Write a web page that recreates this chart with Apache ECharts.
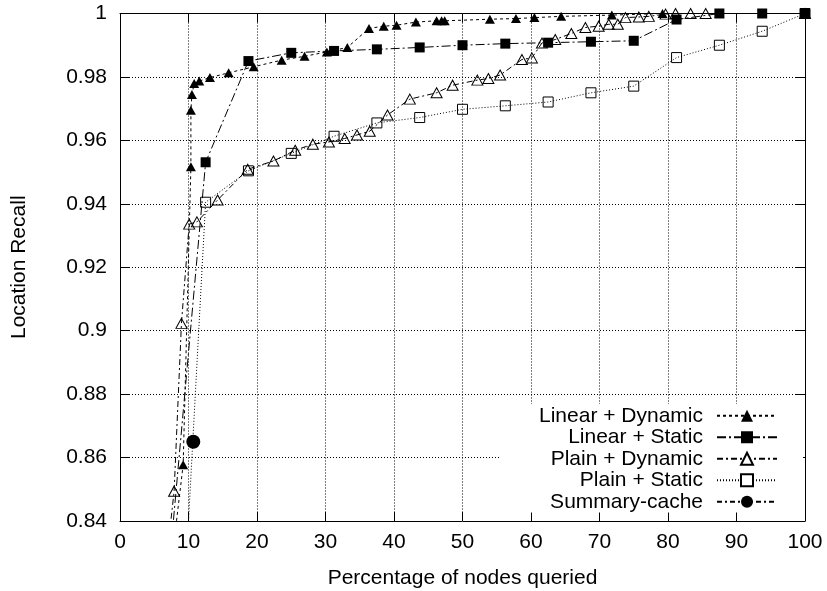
<!DOCTYPE html>
<html>
<head>
<meta charset="utf-8">
<script src="https://cdn.jsdelivr.net/npm/echarts@6/dist/echarts.min.js"></script>
<style>
  html, body { margin: 0; padding: 0; background: #fff; }
  #chart { width: 827px; height: 591px; }
</style>
</head>
<body>
<div id="chart"></div>
<script>
// Recall vs. share of nodes queried, one series per lookup scheme.
const seriesNames = ['Linear + Dynamic', 'Linear + Static', 'Plain + Dynamic', 'Plain + Static', 'Summary-cache'];

const linearDynamicX = [6.6, 9.22, 10.35, 10.35, 10.5, 10.83, 11.57, 13.13, 15.86, 19.52, 23.6, 26.94, 30.2, 33.19, 36.35, 38.5, 40.37, 43.2, 46.22, 46.95, 47.4, 54.0, 57.8, 60.5, 64.4, 71.8, 79.2, 87.5, 100];
const linearDynamicY = [0.81, 0.8577, 0.9517, 0.9695, 0.9745, 0.9779, 0.9787, 0.9798, 0.9813, 0.9832, 0.9853, 0.9865, 0.9879, 0.9893, 0.9953, 0.996, 0.9963, 0.9973, 0.9977, 0.9977, 0.9977, 0.9982, 0.9984, 0.9987, 0.9991, 0.9995, 1.0, 1.0, 1.0];

const linearStaticX = [6.25, 12.5, 18.75, 25, 31.25, 37.5, 43.75, 50, 56.25, 62.5, 68.75, 75, 81.25, 87.5, 93.75, 100];
const linearStaticY = [0.803, 0.9531, 0.985, 0.9876, 0.9882, 0.9887, 0.9893, 0.99, 0.9905, 0.9908, 0.9911, 0.9914, 0.9981, 1.0, 1.0, 1.0];

const plainDynamicX = [5.9, 7.9, 8.97, 10.1, 11.23, 14.25, 18.64, 22.4, 25.58, 28.16, 30.5, 32.8, 34.6, 36.46, 39.05, 42.31, 46.22, 48.56, 52.17, 53.78, 55.49, 58.67, 60.13, 61.6, 63.54, 65.89, 67.94, 69.88, 71.35, 72.67, 73.79, 75.74, 77.2, 79.65, 81.1, 83.3, 85.5, 100];
const plainDynamicY = [0.81, 0.8494, 0.9023, 0.9336, 0.9343, 0.9412, 0.9509, 0.9535, 0.9569, 0.9588, 0.9595, 0.9606, 0.9617, 0.9629, 0.968, 0.973, 0.975, 0.9774, 0.979, 0.9795, 0.9806, 0.9855, 0.986, 0.9907, 0.9918, 0.9937, 0.9956, 0.996, 0.9966, 0.9966, 0.9987, 0.9989, 0.9991, 0.9998, 1.0, 1.0, 1.0, 1.0];

const plainStaticX = [6.25, 12.5, 18.75, 25, 31.25, 37.5, 43.75, 50, 56.25, 62.5, 68.75, 75, 81.25, 87.5, 93.75, 100];
const plainStaticY = [0.689, 0.9405, 0.9504, 0.9559, 0.9613, 0.9655, 0.9672, 0.9698, 0.9709, 0.9721, 0.975, 0.9771, 0.9861, 0.99, 0.9944, 1.0];

const summaryCacheX = [10.7];
const summaryCacheY = [0.865];

const xTicks = [0, 10, 20, 30, 40, 50, 60, 70, 80, 90, 100];
const yTicks = [0.84, 0.86, 0.88, 0.9, 0.92, 0.94, 0.96, 0.98, 1];

const pairs = (xs, ys) => xs.map((x, i) => [x, ys[i]]);

const FONT = 'Liberation Sans, Arial, Helvetica, sans-serif';
const INK = '#000';
const TEXT_SIZE = 21;

const tickStyle = { show: true, inside: true, length: 9, lineStyle: { color: INK, width: 1 } };
const gridDots = { show: true, showMinLine: false, showMaxLine: false, lineStyle: { color: INK, width: 1, type: [1, 2] } };

function lineSeries(name, data, symbol, size, filled, dash) {
  return {
    name: name,
    type: 'line',
    data: data,
    symbol: symbol,
    symbolSize: size,
    clip: true,
    animation: false,
    z: 3,
    lineStyle: { color: INK, width: 1, type: dash },
    itemStyle: filled
      ? { color: INK, borderColor: INK, borderWidth: 0 }
      : { color: 'transparent', borderColor: INK, borderWidth: 1 },
    emphasis: { disabled: true }
  };
}

const chart = echarts.init(document.getElementById('chart'), null, { renderer: 'canvas' });

chart.setOption({
  backgroundColor: '#fff',
  animation: false,
  textStyle: { fontFamily: FONT, color: INK },
  grid: { left: 120, right: 22, top: 13.5, bottom: 70, containLabel: false, outerBoundsMode: 'none' },
  xAxis: [
    {
      type: 'value', position: 'bottom',
      min: xTicks[0], max: xTicks[xTicks.length - 1], interval: 10,
      name: 'Percentage of nodes queried', nameLocation: 'middle', nameGap: 47,
      nameTextStyle: { fontFamily: FONT, fontSize: TEXT_SIZE, color: INK },
      axisLine: { show: true, onZero: false, lineStyle: { color: INK, width: 1 } },
      axisTick: tickStyle,
      axisLabel: { fontFamily: FONT, fontSize: TEXT_SIZE, color: INK, margin: 11 },
      splitLine: gridDots
    },
    {
      type: 'value', position: 'top',
      min: xTicks[0], max: xTicks[xTicks.length - 1], interval: 10,
      axisLine: { show: true, onZero: false, lineStyle: { color: INK, width: 1 } },
      axisTick: tickStyle,
      axisLabel: { show: false },
      splitLine: { show: false }
    }
  ],
  yAxis: [
    {
      type: 'value', position: 'left',
      min: yTicks[0], max: yTicks[yTicks.length - 1], interval: 0.02,
      name: 'Location Recall', nameLocation: 'middle', nameGap: 90, nameRotate: 90,
      nameTextStyle: { fontFamily: FONT, fontSize: TEXT_SIZE, color: INK },
      axisLine: { show: true, onZero: false, lineStyle: { color: INK, width: 1 } },
      axisTick: tickStyle,
      axisLabel: {
        fontFamily: FONT, fontSize: TEXT_SIZE, color: INK, margin: 13,
        formatter: v => String(+v.toFixed(2))
      },
      splitLine: gridDots
    },
    {
      type: 'value', position: 'right',
      min: yTicks[0], max: yTicks[yTicks.length - 1], interval: 0.02,
      axisLine: { show: true, onZero: false, lineStyle: { color: INK, width: 1 } },
      axisTick: tickStyle,
      axisLabel: { show: false },
      splitLine: { show: false }
    }
  ],
  legend: {
    orient: 'vertical',
    align: 'right',
    right: 24,
    top: 404,
    padding: [1, 25, 0, 40],
    backgroundColor: '#fff',
    itemWidth: 60,
    itemHeight: 15,
    itemGap: 0,
    selectedMode: false,
    textStyle: { fontFamily: FONT, fontSize: TEXT_SIZE, color: INK, lineHeight: 21.5, padding: [0, 9, 0, 0] },
    data: [
      { name: seriesNames[0] },
      { name: seriesNames[1] },
      { name: seriesNames[2], itemStyle: { color: '#fff' } },
      { name: seriesNames[3], itemStyle: { color: '#fff' } },
      { name: seriesNames[4] }
    ]
  },
  series: [
    lineSeries(seriesNames[0], pairs(linearDynamicX, linearDynamicY), 'triangle', [10, 9], true, [3, 3]),
    lineSeries(seriesNames[1], pairs(linearStaticX, linearStaticY), 'rect', 10, true, [9, 3, 2, 3]),
    lineSeries(seriesNames[2], pairs(plainDynamicX, plainDynamicY), 'triangle', [11, 10], false, [6, 3, 2, 3]),
    lineSeries(seriesNames[3], pairs(plainStaticX, plainStaticY), 'rect', 10, false, [1, 2]),
    lineSeries(seriesNames[4], pairs(summaryCacheX, summaryCacheY), 'circle', 14, true, [5, 3, 2, 3])
  ]
});
</script>
</body>
</html>
